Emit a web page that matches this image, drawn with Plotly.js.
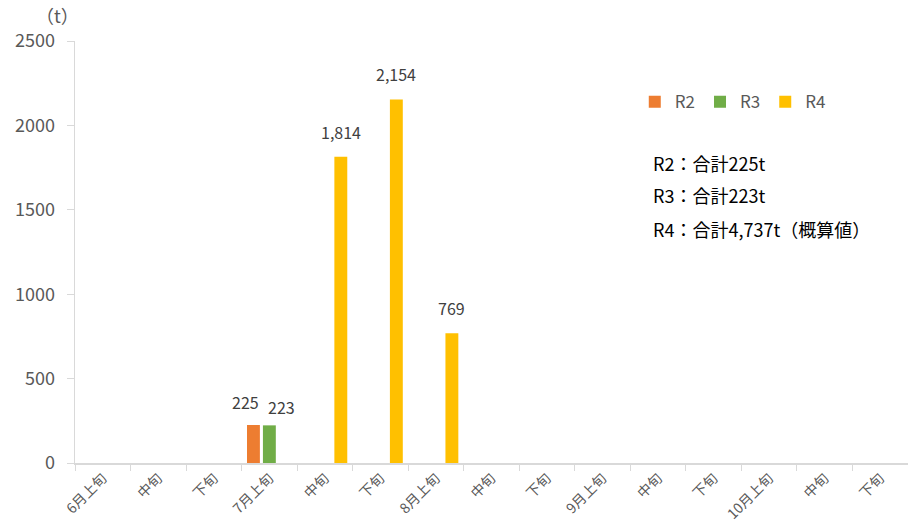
<!DOCTYPE html>
<html><head><meta charset="utf-8">
<script src="https://cdn.plot.ly/plotly-3.0.1.min.js"></script>
<style>html,body{margin:0;padding:0;background:#fff}#c{width:908px;height:532px}</style>
</head><body><div id="c"></div>
<script>
const categories = ["6月上旬","6月中旬","6月下旬","7月上旬","7月中旬","7月下旬","8月上旬","8月中旬","8月下旬","9月上旬","9月中旬","9月下旬","10月上旬","10月中旬","10月下旬"];
const tickLabels = ["6月上旬","中旬","下旬","7月上旬","中旬","下旬","8月上旬","中旬","下旬","9月上旬","中旬","下旬","10月上旬","中旬","下旬"];
const r2 = [null,null,null,225,null,null,null,null,null,null,null,null,null,null,null];
const r3 = [null,null,null,223,null,null,null,null,null,null,null,null,null,null,null];
const r4 = [null,null,null,null,1814,2154,769,null,null,null,null,null,null,null,null];
const seriesNames = ["R2","R3","R4"];
const colors = ["#ED7D31","#70AD47","#FFC000"];
const notes = ["R2：合計225t","R3：合計223t","R4：合計4,737t（概算値）"];

const font = "Noto Sans CJK JP, Noto Sans, sans-serif";
const series = [r2,r3,r4];
const mk = (y,i)=>({type:"bar",x:categories,y:y,name:seriesNames[i],marker:{color:colors[i]},hoverinfo:"none"});
const data=series.map(mk);
// data labels (placed from the data values)
const labelXShift=[-24,12,16], labelYShift=[9,4,11];
const ann=[];
series.forEach((s,i)=>s.forEach((v,j)=>{ if(v!=null) ann.push({x:categories[j],y:v,xref:"x",yref:"y",
  text:v.toLocaleString("en-US"),showarrow:false,xanchor:"center",yanchor:"bottom",xshift:labelXShift[i],yshift:labelYShift[i],
  font:{size:16,color:"#404040",family:font}}); }));
notes.forEach((t,i)=>ann.push({xref:"paper",yref:"paper",x:0.691,y:[0.711,0.635,0.555][i],xanchor:"left",yanchor:"middle",
  text:t,showarrow:false,font:{size:18,color:"#000",family:font}}));
ann.push({xref:"paper",yref:"paper",x:-0.021,y:1.061,xanchor:"center",yanchor:"middle",text:"（t）",showarrow:false,font:{size:18,color:"#595959",family:font}});
const layout={width:908,height:532,margin:{l:75,r:0,t:41,b:69},paper_bgcolor:"#fff",plot_bgcolor:"#fff",
  barmode:"group",bargap:0.14,bargroupgap:0.19,showlegend:true,
  font:{family:font,color:"#595959"},
  legend:{orientation:"h",x:0.672,y:0.855,xanchor:"left",yanchor:"middle",font:{size:17,color:"#595959",family:font},itemwidth:30,traceorder:"normal"},
  xaxis:{type:"category",categoryorder:"array",categoryarray:categories,tickvals:categories,ticktext:tickLabels,
    tickangle:-45,tickfont:{size:14,color:"#595959",family:font},showgrid:false,showline:true,linecolor:"#d9d9d9",linewidth:1.5,
    ticks:"outside",ticklen:6,tickcolor:"#d9d9d9",tickson:"boundaries",zeroline:false,range:[-0.5,14.5],fixedrange:true},
  yaxis:{range:[0,2500],dtick:500,tick0:0,showgrid:false,showline:true,linecolor:"#d9d9d9",linewidth:1.5,ticks:"outside",ticklen:7,tickcolor:"#d9d9d9",
    tickfont:{size:18,color:"#595959",family:font},zeroline:false,ticklabelstandoff:8,tickformat:"d"},
  annotations:ann};
Plotly.newPlot("c",data,layout,{staticPlot:true});
</script></body></html>
